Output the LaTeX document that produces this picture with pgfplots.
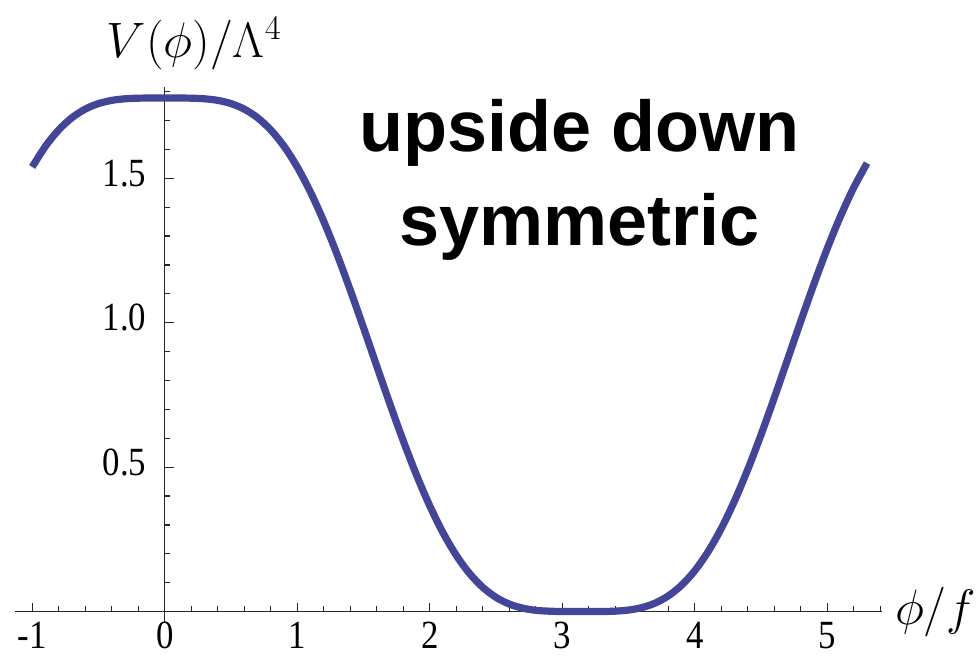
\documentclass[border=0pt]{standalone}
\usepackage{fontspec}
\setmainfont{Liberation Serif}
\newfontfamily\annotfont{Liberation Sans}
\usepackage{graphicx}
\usepackage{pgfplots}
\pgfplotsset{compat=1.18}
\definecolor{curveblue}{RGB}{66,69,152}
\newcommand\tl[1]{\scalebox{0.87}[1]{#1}}

% potential V(phi)/Lambda^4 sampled along phi/f
\pgfplotstableread{
x V
-1.0 1.5392
-0.9 1.6110
-0.8 1.6675
-0.7 1.7098
-0.6 1.7395
-0.5 1.7586
-0.4 1.7697
-0.3 1.7752
-0.2 1.7773
-0.1 1.7777
0.0 1.7778
0.1 1.7777
0.2 1.7773
0.3 1.7752
0.4 1.7697
0.5 1.7586
0.6 1.7395
0.7 1.7098
0.8 1.6675
0.9 1.6110
1.0 1.5392
1.1 1.4522
1.2 1.3509
1.3 1.2370
1.4 1.1133
1.5 0.9830
1.6 0.8500
1.7 0.7180
1.8 0.5912
1.9 0.4729
2.0 0.3661
2.1 0.2729
2.2 0.1948
2.3 0.1320
2.4 0.0839
2.5 0.0492
2.6 0.0260
2.7 0.0119
2.8 0.0044
2.9 0.0014
3.0 0.0001
3.1 0.0000
3.2 0.0000
3.3 0.0002
3.4 0.0015
3.5 0.0053
3.6 0.0137
3.7 0.0292
3.8 0.0542
3.9 0.0910
4.0 0.1415
4.1 0.2069
4.2 0.2876
4.3 0.3831
4.4 0.4920
4.5 0.6120
4.6 0.7399
4.7 0.8724
4.8 1.0053
4.9 1.1347
5.0 1.2570
5.1 1.3689
5.2 1.4679
5.3 1.5523
}\potential

\begin{document}
\begin{tikzpicture}
\path[use as bounding box] (-7.5pt,-17.15pt) rectangle (482pt,310.85pt);
\begin{axis}[
  at={(0,0)}, anchor=south west,
  scale only axis,
  width=433.3pt, height=267.2pt,
  xmin=-1.13, xmax=5.41,
  ymin=-0.035, ymax=1.815,
  axis lines=middle,
  axis line style={-, line width=0.6pt, black!85},
  clip=false,
  hide obscured x ticks=false,
  hide obscured y ticks=false,
  xtick={-1,0,1,2,3,4,5},
  xticklabels={\tl{-1},\tl{0},\tl{1},\tl{2},\tl{3},\tl{4},\tl{5}},
  minor xtick={-1,-0.8,...,5.45},
  ytick={0.5,1,1.5},
  yticklabels={\tl{0.5},\tl{1.0},\tl{1.5}},
  minor ytick={0,0.1,...,1.85},
  tick align=inside,
  major tick length=4.5pt,
  minor tick length=2.8pt,
  every tick/.style={black!85, line width=0.6pt},
  xticklabel style={anchor=north, inner sep=0pt, yshift=-5pt,
    font=\fontsize{20}{22}\selectfont},
  yticklabel style={anchor=east, inner sep=0pt, xshift=-9pt, yshift=2.5pt,
    font=\fontsize{20}{22}\selectfont},
  xlabel={$\phi/f$},
  xlabel style={at={(axis cs:5.41,0)}, anchor=west, inner sep=0pt,
    xshift=6.5pt, font=\fontsize{27}{30}\selectfont},
  ylabel={$V(\phi)/\Lambda^4$},
  ylabel style={at={(axis cs:0,1.815)}, anchor=base, rotate=0, inner sep=0pt,
    xshift=14.75pt, yshift=15pt, font=\fontsize{27}{30}\selectfont},
]
\addplot[curveblue, line width=3.6pt, smooth] table[x=x, y=V] {\potential};
\node[anchor=base, inner sep=0pt, font=\annotfont\bfseries\fontsize{36}{40}\selectfont]
  at (axis cs:3.13,1.591) {upside down};
\node[anchor=base, inner sep=0pt, font=\annotfont\bfseries\fontsize{36}{40}\selectfont]
  at (axis cs:3.13,1.269) {symmetric};
\end{axis}
\end{tikzpicture}
\end{document}
